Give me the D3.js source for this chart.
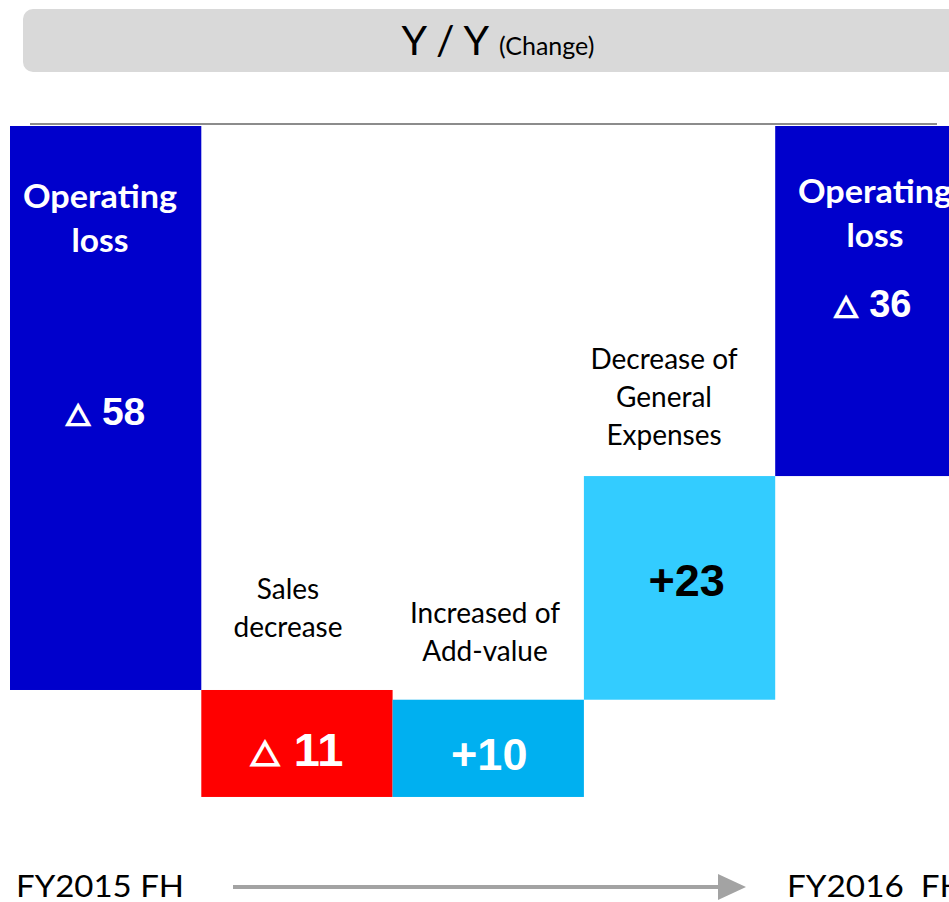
<!DOCTYPE html>
<html>
<head>
<meta charset="utf-8">
<script src="https://cdn.jsdelivr.net/npm/d3@7"></script>
<style>
  html, body { margin: 0; padding: 0; background: #ffffff; overflow: hidden; }
  svg { display: block; }
  text { white-space: pre; }
</style>
</head>
<body>
<svg id="chart" width="949" height="902"></svg>
<script>
// ---- data ----
const categories = ["FY2015 FH", "Sales decrease", "Increased of Add-value", "Decrease of General Expenses", "FY2016 FH"];
const kinds = ["total", "delta", "delta", "delta", "total"];
const values = [-58, -11, 10, 23, -36];
const valueLabels = ["58", "11", "+10", "+23", "36"];
const lossMark = [true, true, false, false, true];
const insideTitles = [["Operating", "loss"], null, null, null, ["Operating", "loss"]];
const outsideTitles = [null, ["Sales", "decrease"], ["Increased of", "Add-value"], ["Decrease of", "General", "Expenses"], null];
const barColors = ["#0000CC", "#FF0000", "#00B0F0", "#33CCFF", "#0000CC"];
const valueColors = ["#ffffff", "#ffffff", "#ffffff", "#000000", "#ffffff"];
const titleMain = "Y / Y";
const titleSub = "(Change)";
const startLabel = "FY2015 FH";
const endLabel = "FY2016  FH";

// ---- waterfall geometry ----
let run = 0;
const bars = categories.map((c, i) => {
  let a, b;
  if (kinds[i] === "total") { a = 0; b = values[i]; run = values[i]; }
  else { a = run; b = run + values[i]; run = b; }
  return { i, cat: c, lo: Math.min(a, b), hi: Math.max(a, b) };
});

const svg = d3.select("#chart");
const x = d3.scaleBand().domain(categories).range([10, 966.5]).padding(0);
const y = d3.scaleLinear().domain([0, -70]).range([126, 126 + 70 * 9.724]);

// title box
svg.append("rect").attr("x", 23).attr("y", 9).attr("width", 960).attr("height", 63)
  .attr("rx", 10).attr("fill", "#d9d9d9");
const t = svg.append("text").attr("x", 498).attr("y", 55).attr("text-anchor", "middle")
  .attr("font-family", "Lato, 'Open Sans', sans-serif").attr("fill", "#000");
t.append("tspan").attr("font-size", 41).attr("font-weight", 400).text(titleMain);
t.append("tspan").attr("font-size", 25).attr("dx", 10).text(titleSub);

// zero line
svg.append("line").attr("x1", 30).attr("x2", 937).attr("y1", y(0) - 2).attr("y2", y(0) - 2)
  .attr("stroke", "#8c8c8c").attr("stroke-width", 2);

// bars
svg.selectAll("rect.bar").data(bars).join("rect").attr("class", "bar")
  .attr("x", d => x(d.cat)).attr("width", x.bandwidth())
  .attr("y", d => y(d.hi)).attr("height", d => y(d.lo) - y(d.hi))
  .attr("fill", d => barColors[d.i]);

// inside titles (Operating loss)
const insideX = [100, 0, 0, 0, 875];
const insideY = [[208, 252], null, null, null, [203, 247]];
const insideLen = [154, 57];
bars.forEach(d => {
  const lines = insideTitles[d.i];
  if (!lines) return;
  lines.forEach((ln, k) => {
    svg.append("text").attr("x", insideX[d.i]).attr("y", insideY[d.i][k])
      .attr("text-anchor", "middle").attr("font-family", "Lato, sans-serif")
      .attr("font-weight", 700).attr("font-size", 32).attr("fill", "#ffffff")
      .attr("textLength", insideLen[k]).attr("lengthAdjust", "spacingAndGlyphs").text(ln);
  });
});

// outside titles (above bars)
const outsideCenter = [0, 288, 485, 664, 0];
const outsideLast = [0, 637, 661, 445, 0];
bars.forEach(d => {
  const lines = outsideTitles[d.i];
  if (!lines) return;
  const n = lines.length;
  lines.forEach((ln, k) => {
    svg.append("text").attr("x", outsideCenter[d.i]).attr("y", outsideLast[d.i] - (n - 1 - k) * 38)
      .attr("text-anchor", "middle").attr("font-family", "Lato, sans-serif")
      .attr("font-size", 28).attr("fill", "#000000").text(ln);
  });
});

// value labels
const valueSize = [39, 47, 45, 45, 38];
const valueBase = [425, 766, 770, 596, 317];
const valueShift = [0, 0, 1, 7, 2];
bars.forEach(d => {
  const tx = svg.append("text").attr("x", x(d.cat) + x.bandwidth() / 2 + valueShift[d.i]).attr("y", valueBase[d.i])
    .attr("text-anchor", "middle").attr("font-family", "'Liberation Sans', Arial, sans-serif")
    .attr("font-weight", 700).attr("font-size", valueSize[d.i]).attr("fill", valueColors[d.i]);
  if (lossMark[d.i]) {
    tx.append("tspan").attr("font-family", "'Noto Sans CJK JP', 'DejaVu Sans', sans-serif").attr("font-weight", 700)
      .attr("font-size", valueSize[d.i] * 0.62)
      .attr("stroke", valueColors[d.i]).attr("stroke-width", 2.2).attr("stroke-linejoin", "miter")
      .text("\u25B3");
    tx.append("tspan").attr("dx", valueSize[d.i] * 0.3).text(valueLabels[d.i]);
  } else {
    tx.text(valueLabels[d.i]);
  }
});

// bottom labels + arrow
svg.append("text").attr("x", 16).attr("y", 897).attr("font-family", "Lato, sans-serif")
  .attr("font-size", 30).attr("fill", "#000").attr("textLength", 168).attr("lengthAdjust", "spacingAndGlyphs")
  .text(startLabel);
svg.append("text").attr("x", 787).attr("y", 897).attr("font-family", "Lato, sans-serif")
  .attr("font-size", 30).attr("fill", "#000").attr("textLength", 178).attr("lengthAdjust", "spacingAndGlyphs")
  .text(endLabel);
svg.append("line").attr("x1", 233).attr("x2", 720).attr("y1", 887).attr("y2", 887)
  .attr("stroke", "#a3a3a3").attr("stroke-width", 4);
svg.append("path").attr("d", d3.line()([[718, 874], [746, 887], [718, 900]]) + "Z").attr("fill", "#a3a3a3");
</script>
</body>
</html>
